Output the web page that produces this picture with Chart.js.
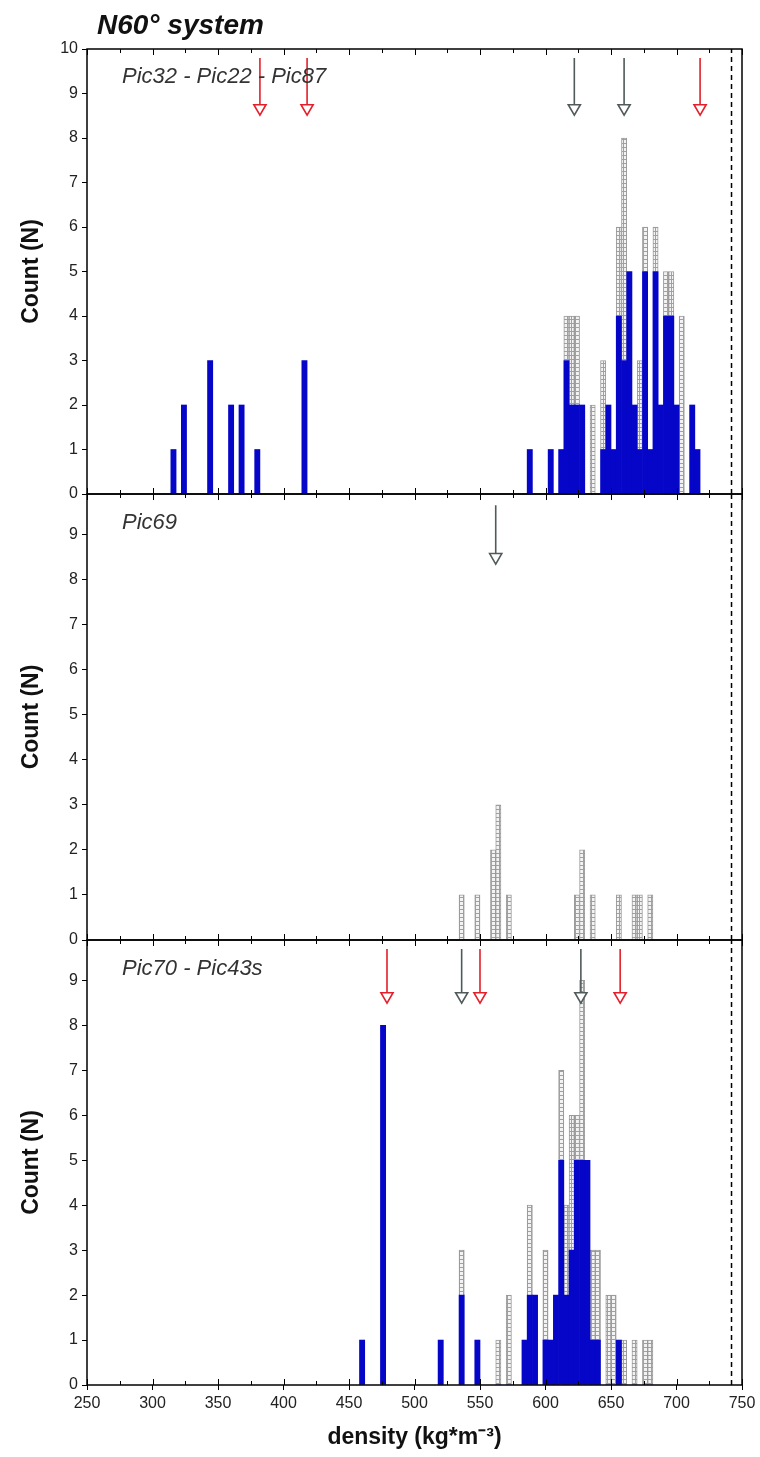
<!DOCTYPE html>
<html><head><meta charset="utf-8">
<script src="https://cdn.jsdelivr.net/npm/chart.js@4.4.0/dist/chart.umd.min.js"></script>
<style>
body{margin:0;background:#fff;}
#wrap{position:relative;width:760px;height:1457px;overflow:hidden;font-family:"Liberation Sans",Arial,sans-serif;}
canvas{position:absolute;left:0;}
.t{position:absolute;white-space:nowrap;line-height:1;}
.lab{font-size:22px;font-style:italic;color:#333;}
</style></head><body>
<div id="wrap">
<canvas id="cA" width="760" height="520" style="top:0px"></canvas>
<canvas id="cB" width="760" height="500" style="top:470px"></canvas>
<canvas id="cC" width="760" height="541" style="top:916px"></canvas>
<div class="t" style="left:97px;top:11px;font-size:28px;font-weight:bold;font-style:italic;color:#111">N60° system</div>
<div class="t lab" style="left:122px;top:65px">Pic32 - Pic22 - Pic87</div>
<div class="t lab" style="left:122px;top:511px">Pic69</div>
<div class="t lab" style="left:122px;top:957px">Pic70 - Pic43s</div>
</div>
<script>
// ---- data (bin centres in kg/m3, bin width 4) ----
const xTicksMajor = [250, 300, 350, 400, 450, 500, 550, 600, 650, 700, 750];

const topBins  = [316, 324, 344, 360, 368, 380, 416, 588, 604, 612, 616, 620, 624, 628, 636, 644, 648, 652, 656, 660, 664, 668, 672, 676, 680, 684, 688, 692, 696, 700, 704, 712, 716];
const topBlue  = [1, 2, 3, 2, 2, 1, 3, 1, 1, 1, 3, 2, 2, 2, 0, 1, 2, 1, 4, 3, 5, 2, 1, 5, 1, 5, 2, 4, 4, 2, 0, 2, 1];
const topGrey  = [0, 0, 0, 0, 0, 0, 0, 0, 0, 0, 1, 2, 2, 0, 2, 2, 0, 0, 2, 5, 0, 0, 2, 1, 0, 1, 0, 1, 1, 0, 4, 0, 0];

const midBins  = [536, 548, 560, 564, 572, 624, 628, 636, 656, 668, 672, 680];
const midGrey  = [1, 1, 2, 3, 1, 1, 2, 1, 1, 1, 1, 1];

const botBins  = [460, 476, 520, 536, 548, 564, 572, 584, 588, 592, 600, 604, 608, 612, 616, 620, 624, 628, 632, 636, 640, 648, 652, 656, 660, 668, 676, 680];
const botBlue  = [1, 8, 1, 2, 1, 0, 0, 1, 2, 2, 1, 1, 2, 5, 2, 3, 5, 5, 5, 1, 1, 0, 0, 1, 0, 0, 0, 0];
const botGrey  = [0, 0, 0, 1, 0, 1, 2, 0, 2, 0, 2, 0, 0, 2, 2, 3, 1, 4, 0, 2, 2, 2, 2, 0, 1, 1, 1, 1];

const topRedArrows  = [382, 418, 718];
const topGreyArrows = [622, 660];
const midGreyArrows = [562];
const botRedArrows  = [479, 550, 657];
const botGreyArrows = [536, 627];

const dashedX = 742;

// ---- styles ----
const BLUE = '#0606c8';
const RED = '#e3202a';
const GREYA = '#505a5a';
Chart.defaults.font.family = '"Liberation Sans", Arial, sans-serif';

function hatch() {
  const c = document.createElement('canvas'); c.width = 4; c.height = 4;
  const g = c.getContext('2d');
  g.fillStyle = '#f3f3f3'; g.fillRect(0, 0, 4, 4);
  g.fillStyle = '#a0a0a0'; g.fillRect(0, 3, 4, 1); g.fillRect(3, 0, 1, 3);
  return g.createPattern(c, 'repeat');
}
const HATCH = hatch();

function barDS(bins, vals, kind) {
  return {
    type: 'bar', data: bins.map((b, i) => ({x: b, y: vals[i]})),
    backgroundColor: kind === 'blue' ? BLUE : HATCH,
    borderColor: kind === 'blue' ? BLUE : '#9a9a9a',
    borderWidth: kind === 'blue' ? 0 : 1,
    borderSkipped: 'bottom',
    barPercentage: 1, categoryPercentage: 1, stack: 'hist', order: 3
  };
}
function arrowDS(xs, yTop, yHead, color, stack) {
  const data = [];
  xs.forEach(v => { data.push({x: v, y: yTop}, {x: v, y: yHead}, {x: v, y: null}); });
  return {
    type: 'line', data, borderColor: color, borderWidth: 1.6, spanGaps: false,
    pointStyle: 'triangle', rotation: 180,
    pointRadius: c => (c.dataIndex % 3 === 1 ? 7 : 0), pointHoverRadius: 0,
    pointBackgroundColor: '#fff', pointBorderColor: color, pointBorderWidth: 1.6,
    order: 1, stack
  };
}
function dashDS(yMax) {
  return { type: 'line', data: [{x: dashedX, y: 0}, {x: dashedX, y: yMax}],
    borderColor: '#000', borderWidth: 1.5, borderDash: [5, 4], pointRadius: 0, order: 2, stack: 'dash' };
}

const frame = {
  id: 'frame',
  afterDatasetsDraw(chart) {
    const {ctx, chartArea: a, scales: {x}} = chart;
    ctx.save();
    ctx.strokeStyle = '#000';
    ctx.lineWidth = 1;
    for (let v = 250; v <= 750; v += 25) {
      const px = Math.round(x.getPixelForValue(v)) + 0.5;
      const len = v % 50 === 0 ? 6 : 4;
      ctx.beginPath();
      ctx.moveTo(px, a.top); ctx.lineTo(px, a.top + len);
      ctx.moveTo(px, a.bottom); ctx.lineTo(px, a.bottom - len);
      ctx.stroke();
    }
    ctx.lineWidth = 1.5;
    ctx.strokeRect(a.left, a.top, a.right - a.left, a.bottom - a.top);
    ctx.restore();
  }
};

function yScale(max) {
  return {
    type: 'linear', min: 0, max, stacked: true,
    afterFit: s => { s.width = 87; },
    afterBuildTicks: s => { s.ticks = s.ticks.filter(t => Number.isInteger(t.value)); },
    ticks: { stepSize: 1, font: {size: 16}, color: '#222', padding: 4 },
    grid: { drawOnChartArea: false, drawTicks: true, tickLength: 5, color: '#000', lineWidth: 1 },
    border: { display: false },
    title: { display: true, text: 'Count (N)', font: {size: 23, weight: 'bold'}, color: '#111', padding: {top: 18, bottom: 0} }
  };
}
function xScale(show) {
  const s = {
    type: 'linear', min: 250, max: 750, stacked: true, display: show, offset: false,
    afterBuildTicks: sc => { sc.ticks = xTicksMajor.map(v => ({value: v})); },
    ticks: { stepSize: 50, font: {size: 16}, color: '#222', padding: 4, maxRotation: 0, autoSkip: false },
    grid: { drawOnChartArea: false, drawTicks: true, tickLength: 5, color: '#000', offset: false },
    border: { display: false }
  };
  if (show) {
    s.afterFit = sc => { sc.height = 72; };
    s.title = { display: true, text: 'density (kg*m⁻³)', font: {size: 23, weight: 'bold'}, color: '#111', padding: {top: 0, bottom: 6} };
  }
  return s;
}
function make(id, datasets, yMax, showX, padding) {
  return new Chart(document.getElementById(id), {
    type: 'bar',
    data: { datasets },
    options: {
      responsive: false, animation: false, devicePixelRatio: 1,
      layout: { padding },
      plugins: { legend: {display: false}, tooltip: {enabled: false} },
      scales: { x: xScale(showX), y: yScale(yMax) }
    },
    plugins: [frame]
  });
}

make('cA', [
  barDS(topBins, topBlue, 'blue'), barDS(topBins, topGrey, 'grey'),
  dashDS(10),
  arrowDS(topRedArrows, 9.8, 8.67, RED, 'ar'), arrowDS(topGreyArrows, 9.8, 8.67, GREYA, 'ag')
], 10, false, {top: 49, bottom: 26, left: 0, right: 18});

make('cB', [
  barDS(midBins, midGrey, 'grey'),
  dashDS(9.9),
  arrowDS(midGreyArrows, 9.65, 8.5, GREYA, 'ag')
], 9.9, false, {top: 24, bottom: 30, left: 0, right: 18});

make('cC', [
  barDS(botBins, botBlue, 'blue'), barDS(botBins, botGrey, 'grey'),
  dashDS(9.9),
  arrowDS(botRedArrows, 9.7, 8.65, RED, 'ar'), arrowDS(botGreyArrows, 9.7, 8.65, GREYA, 'ag')
], 9.9, true, {top: 24, bottom: 0, left: 0, right: 18});
</script>
</body></html>
